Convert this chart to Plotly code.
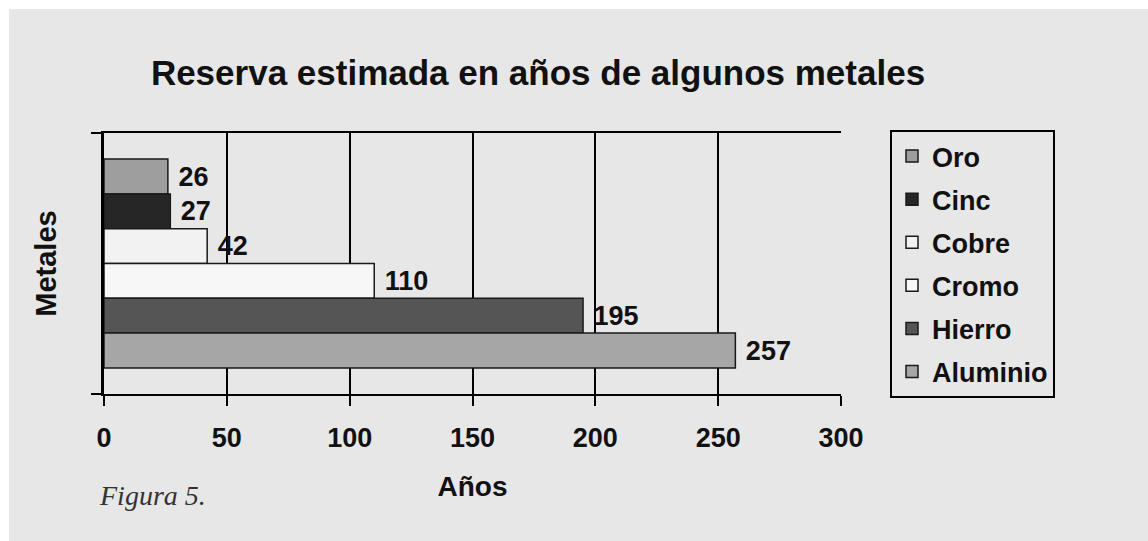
import plotly.graph_objects as go

# Estimated reserves (years) of some metals
metales = ["Oro", "Cinc", "Cobre", "Cromo", "Hierro", "Aluminio"]
anios = [26, 27, 42, 110, 195, 257]
colores = ["#9e9e9e", "#262626", "#f2f2f2", "#f7f7f7", "#555555", "#a6a6a6"]
x_ticks = [0, 50, 100, 150, 200, 250, 300]

FONT = "Arial, 'Liberation Sans', sans-serif"
W, H = 1148, 541
L, R, T, B = 104, 307, 133, 147
PANEL = "#e7e7e7"

fig = go.Figure()
for nombre, valor, color in zip(metales, anios, colores):
    fig.add_trace(go.Bar(
        x=[valor], y=[0], name=nombre, orientation="h",
        marker=dict(color=color, line=dict(color="#1a1a1a", width=1.5)),
        text=[valor], texttemplate=" %{x}", textposition="outside",
        textfont=dict(family=FONT, size=27, color="#111111", weight="bold"),
        cliponaxis=False, legendgroup=nombre,
    ))

pw = W - L - R
ph = H - T - B

def px_x(p):
    return (p - L) / pw

def px_y(p):
    return (H - B - p) / ph

fig.update_layout(
    width=W, height=H,
    margin=dict(l=L, r=R, t=T, b=B),
    paper_bgcolor=PANEL,
    plot_bgcolor="rgba(0,0,0,0)",
    barmode="group", bargap=0.2, bargroupgap=0,
    font=dict(family=FONT, color="#111111"),
    title=dict(
        text="Reserva estimada en años de algunos metales",
        x=538 / W, xanchor="center", y=1 - 73 / H, yanchor="middle",
        font=dict(family=FONT, size=35, color="#111111", weight="bold"),
    ),
    xaxis=dict(
        range=[0, 300], tickvals=x_ticks, ticks="outside", ticklen=10,
        tickwidth=2, tickcolor="#000000", ticklabelstandoff=9,
        showline=True, linecolor="#000000", linewidth=2, mirror=True,
        showgrid=True, gridcolor="#000000", gridwidth=2, zeroline=False,
        tickfont=dict(family=FONT, size=27, color="#111111", weight="bold"),
        title=dict(text="Años", standoff=24,
                   font=dict(family=FONT, size=28, color="#111111", weight="bold")),
        automargin=False,
    ),
    yaxis=dict(
        range=[0.5, -0.5], tickvals=[-0.5, 0.5], ticktext=["", ""],
        ticks="outside", ticklen=10, tickwidth=2, tickcolor="#000000",
        showline=True, linecolor="#000000", linewidth=3,
        showgrid=False, zeroline=False,
        title=dict(text="Metales", standoff=24,
                   font=dict(family=FONT, size=29, color="#111111", weight="bold")),
        automargin=False,
    ),
    legend=dict(
        x=px_x(890), xanchor="left", y=px_y(130), yanchor="top",
        bgcolor=PANEL, bordercolor="#000000", borderwidth=2,
        traceorder="grouped", tracegroupgap=5, maxheight=480,
        font=dict(family=FONT, size=27, color="#111111", weight="bold"),
    ),
    showlegend=True,
)

# White border strips along the top and left edges
fig.add_shape(type="rect", xref="paper", yref="paper", layer="below",
              x0=px_x(-5), x1=px_x(W + 5), y0=px_y(9), y1=px_y(-5),
              fillcolor="#ffffff", line=dict(width=0))
fig.add_shape(type="rect", xref="paper", yref="paper", layer="below",
              x0=px_x(-5), x1=px_x(9), y0=px_y(H + 5), y1=px_y(-5),
              fillcolor="#ffffff", line=dict(width=0))

fig.add_annotation(
    text="Figura 5.", xref="paper", yref="paper",
    x=px_x(97), xanchor="left", y=px_y(495), yanchor="middle",
    showarrow=False,
    font=dict(family="'Liberation Serif', 'Times New Roman', serif",
              size=28, color="#333333", style="italic"),
)

# Page background matches the panel so no white shows past the figure
fig.write_html(
    "out.html",
    post_script=(
        "document.documentElement.style.overflow='hidden';"
        "document.documentElement.style.background='#e7e7e7';"
        "document.body.style.overflow='hidden';"
        "document.body.style.background='#e7e7e7';"
        "document.body.style.margin='0';"
    ),
)
